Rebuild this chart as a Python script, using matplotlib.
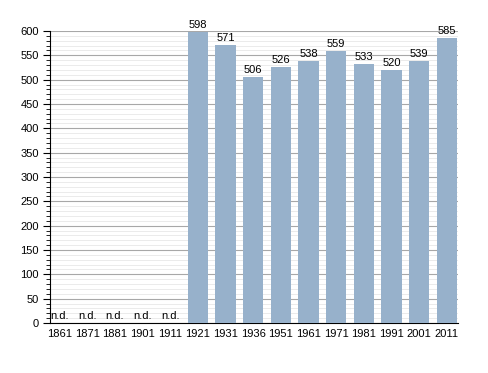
import matplotlib
matplotlib.use("Agg")
import matplotlib.pyplot as plt
from matplotlib.ticker import MultipleLocator
import numpy as np

plt.rcParams["font.family"] = ["Liberation Sans", "DejaVu Sans"]

# Datos de población por año de censo (None = sin datos)
years = ["1861", "1871", "1881", "1901", "1911", "1921", "1931", "1936",
         "1951", "1961", "1971", "1981", "1991", "2001", "2011"]
population = [None, None, None, None, None, 598, 571, 506,
              526, 538, 559, 533, 520, 539, 585]

fig = plt.figure(figsize=(4.88, 3.73), dpi=100)
ax = fig.add_axes([50 / 488, 1 - 323 / 373, 408 / 488, 292 / 373])

x = np.arange(len(years))
vals = [v if v is not None else 0 for v in population]
ax.bar(x, vals, width=0.74, color="#97b1cb", zorder=3)

for xi, v in zip(x, population):
    if v is None:
        ax.text(xi, 4, "n.d.", ha="center", va="bottom", fontsize=8)
    else:
        ax.text(xi, v + 4, str(v), ha="center", va="bottom", fontsize=8)

ax.set_xlim(-0.34, len(years) - 0.6)
ax.set_ylim(0, 600)
ax.set_xticks(x)
ax.set_xticklabels(years, fontsize=8)
ax.tick_params(axis="x", length=0, pad=4)
ax.yaxis.set_major_locator(MultipleLocator(50))
ax.yaxis.set_minor_locator(MultipleLocator(10))
ax.tick_params(axis="y", which="major", length=5, labelsize=8, pad=3)
ax.tick_params(axis="y", which="minor", length=3)
ax.grid(axis="y", which="major", color="#a8a8a8", linewidth=0.8, zorder=0)
ax.grid(axis="y", which="minor", color="#ebebeb", linewidth=0.7, zorder=0)
ax.set_axisbelow(True)
for s in ["top", "right"]:
    ax.spines[s].set_visible(False)

plt.savefig("out.png", dpi=100)
